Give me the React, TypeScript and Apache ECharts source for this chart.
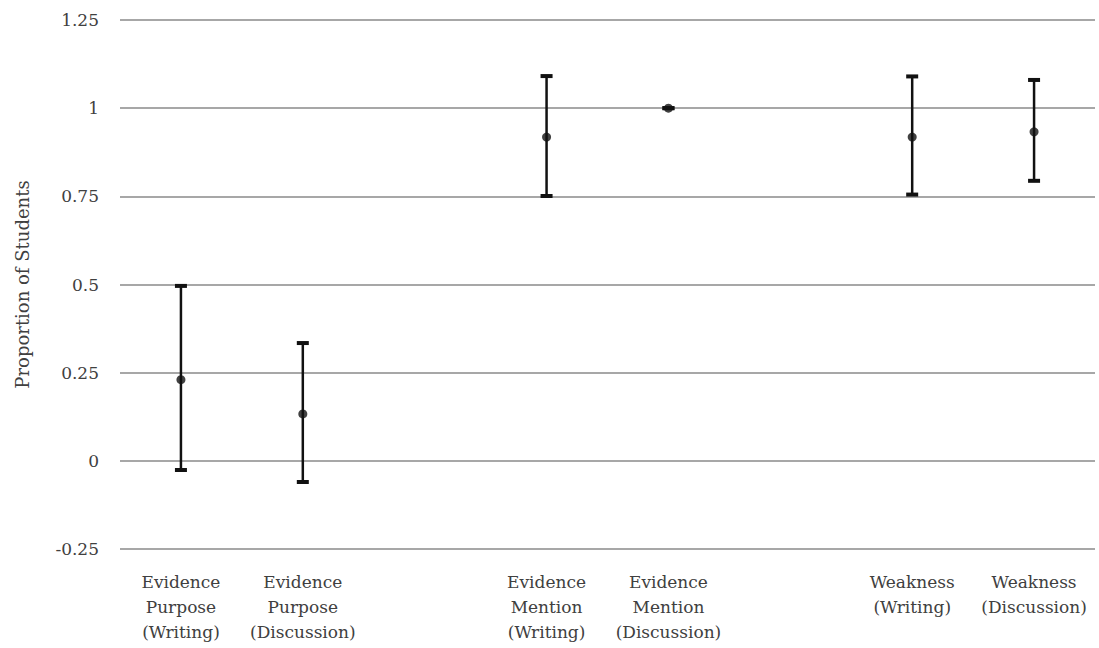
import React, { useEffect, useRef } from "react";
import * as echarts from "echarts";

const categories = [
  "Evidence\nPurpose\n(Writing)",
  "Evidence\nPurpose\n(Discussion)",
  "",
  "Evidence\nMention\n(Writing)",
  "Evidence\nMention\n(Discussion)",
  "",
  "Weakness\n(Writing)",
  "Weakness\n(Discussion)",
];
const means: (number | null)[] = [0.23, 0.133, null, 0.918, 1.0, null, 0.918, 0.933];
const lower: (number | null)[] = [-0.026, -0.06, null, 0.751, 1.0, null, 0.755, 0.794];
const upper: (number | null)[] = [0.496, 0.334, null, 1.091, 1.0, null, 1.09, 1.08];
const yTicks = { min: -0.25, max: 1.25, interval: 0.25 };

const FONT = "DejaVu Serif";

export default function App() {
  const ref = useRef<HTMLDivElement>(null);
  useEffect(() => {
    if (!ref.current) return;
    const chart = echarts.init(ref.current, undefined, { renderer: "svg" });
    const errData = categories
      .map((_, i) => (lower[i] == null ? null : [i, lower[i], upper[i]]))
      .filter((d) => d !== null);
    const meanData = categories
      .map((_, i) => (means[i] == null ? null : [i, means[i]]))
      .filter((d) => d !== null);
    chart.setOption({
      animation: false,
      backgroundColor: "#ffffff",
      grid: { left: 120, right: 4, top: 20, bottom: 99, containLabel: false },
      xAxis: {
        type: "category",
        data: categories,
        boundaryGap: true,
        axisLine: { show: false },
        axisTick: { show: false },
        axisLabel: {
          interval: 0,
          color: "#404040",
          fontFamily: FONT,
          fontSize: 17,
          lineHeight: 25,
          margin: 20,
        },
      },
      yAxis: {
        type: "value",
        min: yTicks.min,
        max: yTicks.max,
        interval: yTicks.interval,
        name: "Proportion of Students",
        nameLocation: "middle",
        nameGap: 89,
        nameTextStyle: { fontFamily: FONT, fontSize: 18, color: "#404040" },
        axisLine: { show: false },
        axisTick: { show: false },
        axisLabel: {
          color: "#404040",
          fontFamily: FONT,
          fontSize: 17,
          margin: 21,
        },
        splitLine: { lineStyle: { color: "#8a8a8a", width: 1.5 } },
      },
      series: [
        {
          type: "custom",
          data: errData,
          encode: { x: 0, y: [1, 2] },
          renderItem: (params: any, api: any) => {
            const x = api.value(0);
            const lo = api.coord([x, api.value(1)]);
            const hi = api.coord([x, api.value(2)]);
            const hw = 6;
            const st = { stroke: "#111", lineWidth: 2.5 };
            const cap = { stroke: "#111", lineWidth: 4 };
            return {
              type: "group",
              children: [
                { type: "line", shape: { x1: lo[0], y1: lo[1], x2: hi[0], y2: hi[1] }, style: st },
                { type: "line", shape: { x1: lo[0] - hw, y1: lo[1], x2: lo[0] + hw, y2: lo[1] }, style: cap },
                { type: "line", shape: { x1: hi[0] - hw, y1: hi[1], x2: hi[0] + hw, y2: hi[1] }, style: cap },
              ],
            };
          },
          z: 3,
        },
        {
          type: "scatter",
          data: meanData,
          symbol: "circle",
          symbolSize: 9,
          itemStyle: { color: "#111" },
          z: 4,
        },
      ],
    });
    return () => chart.dispose();
  }, []);
  return <div ref={ref} style={{ width: 1099, height: 648, position: "absolute", left: 0, top: 0 }} />;
}
